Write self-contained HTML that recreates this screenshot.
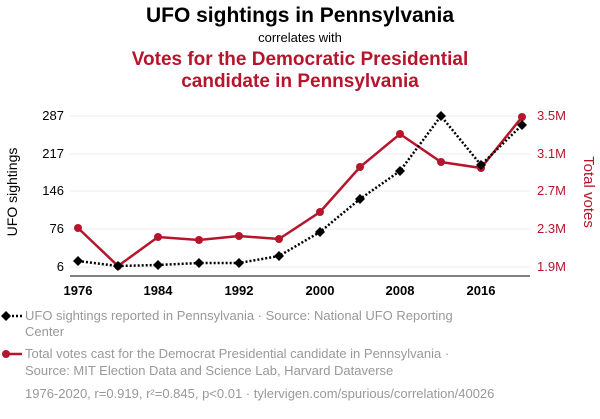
<!DOCTYPE html>
<html><head><meta charset="utf-8"><style>
body{margin:0;background:#fff;width:600px;height:414px;overflow:hidden;font-family:"Liberation Sans",sans-serif}
</style></head><body>
<svg width="600" height="414" xmlns="http://www.w3.org/2000/svg" font-family="Liberation Sans, sans-serif">
<text x="300" y="22" text-anchor="middle" font-size="21" font-weight="bold" fill="#000">UFO sightings in Pennsylvania</text>
<text x="300" y="42" text-anchor="middle" font-size="13" fill="#000">correlates with</text>
<text x="300" y="65" text-anchor="middle" font-size="19" font-weight="bold" fill="#b5162b">Votes for the Democratic Presidential</text>
<text x="300" y="87" text-anchor="middle" font-size="19" font-weight="bold" fill="#b5162b">candidate in Pennsylvania</text>
<g stroke="#eee" stroke-width="1">
<line x1="70" x2="530" y1="116" y2="116"/><line x1="70" x2="530" y1="154" y2="154"/><line x1="70" x2="530" y1="191" y2="191"/><line x1="70" x2="530" y1="229" y2="229"/><line x1="70" x2="530" y1="267" y2="267"/>
</g>
<line x1="70" x2="530" y1="276" y2="276" stroke="#000" stroke-width="1"/>
<g font-size="13" fill="#000" text-anchor="end">
<text x="64" y="120">287</text><text x="64" y="158">217</text><text x="64" y="195">146</text><text x="64" y="233">76</text><text x="64" y="271">6</text>
</g>
<g font-size="13" fill="#b5162b">
<text x="537" y="120">3.5M</text><text x="537" y="158">3.1M</text><text x="537" y="195">2.7M</text><text x="537" y="233">2.3M</text><text x="537" y="271">1.9M</text>
</g>
<g font-size="13" font-weight="bold" fill="#000" text-anchor="middle">
<text x="78" y="295">1976</text><text x="158" y="295">1984</text><text x="239" y="295">1992</text><text x="320" y="295">2000</text><text x="400" y="295">2008</text><text x="481" y="295">2016</text>
</g>
<text transform="translate(17,192) rotate(-90)" text-anchor="middle" font-size="14" fill="#000">UFO sightings</text>
<text transform="translate(584,192) rotate(90)" text-anchor="middle" font-size="15" fill="#b5162b">Total votes</text>
<polyline fill="none" stroke="#b5162b" stroke-width="2.5" points="78,228 118,266 158,237 199,240 239,236 279,239 320,212 360,167 400,134 441,162 481,168 522,117"/>
<g fill="#b5162b">
<circle cx="78" cy="228" r="4"/><circle cx="118" cy="266" r="4"/><circle cx="158" cy="237" r="4"/><circle cx="199" cy="240" r="4"/><circle cx="239" cy="236" r="4"/><circle cx="279" cy="239" r="4"/><circle cx="320" cy="212" r="4"/><circle cx="360" cy="167" r="4"/><circle cx="400" cy="134" r="4"/><circle cx="441" cy="162" r="4"/><circle cx="481" cy="168" r="4"/><circle cx="522" cy="117" r="4"/>
</g>
<polyline fill="none" stroke="#000" stroke-width="2.5" stroke-dasharray="2,2" points="78,261 118,266 158,265 199,263 239,263 279,256 320,232 360,199 400,171 441,116 481,165 522,125"/>
<g fill="#000">
<path d="M78 256l5 5-5 5-5-5z"/><path d="M118 261l5 5-5 5-5-5z"/><path d="M158 260l5 5-5 5-5-5z"/><path d="M199 258l5 5-5 5-5-5z"/><path d="M239 258l5 5-5 5-5-5z"/><path d="M279 251l5 5-5 5-5-5z"/><path d="M320 227l5 5-5 5-5-5z"/><path d="M360 194l5 5-5 5-5-5z"/><path d="M400 166l5 5-5 5-5-5z"/><path d="M441 111l5 5-5 5-5-5z"/><path d="M481 160l5 5-5 5-5-5z"/><path d="M522 120l5 5-5 5-5-5z"/>
</g>
<line x1="4" x2="22" y1="316" y2="316" stroke="#000" stroke-width="2.5" stroke-dasharray="2,2"/>
<path d="M6 311l5 5-5 5-5-5z" fill="#000"/>
<text x="25" y="320" font-size="13" fill="#999">UFO sightings reported in Pennsylvania · Source: National UFO Reporting</text>
<text x="25" y="336" font-size="13" fill="#999">Center</text>
<line x1="4" x2="22" y1="354" y2="354" stroke="#b5162b" stroke-width="2.5"/>
<circle cx="6" cy="354" r="4" fill="#b5162b"/>
<text x="25" y="358" font-size="13" fill="#999">Total votes cast for the Democrat Presidential candidate in Pennsylvania ·</text>
<text x="25" y="375" font-size="13" fill="#999">Source: MIT Election Data and Science Lab, Harvard Dataverse</text>
<text x="25" y="398" font-size="13" fill="#999">1976-2020, r=0.919, r²=0.845, p&lt;0.01 · tylervigen.com/spurious/correlation/40026</text>
</svg>
</body></html>
